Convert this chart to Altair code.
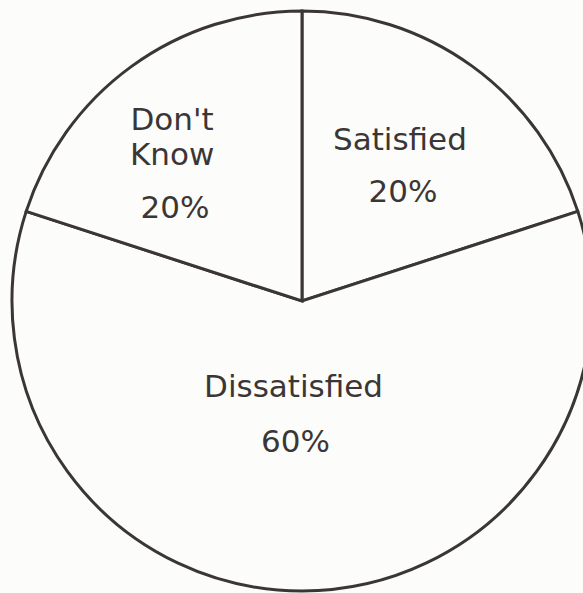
import altair as alt
import pandas as pd

categories = ["Satisfied", "Dissatisfied", "Don't Know"]
shares = [20, 60, 20]
order_idx = [0, 1, 2]

df = pd.DataFrame({"category": categories, "share": shares, "idx": order_idx})

BG = "#fcfcfa"
INK = "#3b3636"
FONT = "DejaVu Sans"
FS = 31
CX, CY = 302, 301

base = alt.Chart(df).encode(
    theta=alt.Theta("share:Q", stack=True, scale=alt.Scale(domain=[0, 100])),
    order=alt.Order("idx:Q", sort="ascending"),
    x=alt.value(CX),
    y=alt.value(CY),
)

pie = base.mark_arc(outerRadius=290, stroke=INK, strokeWidth=3, fill=BG)


def label(expr, radius, dx, dy):
    return base.transform_calculate(t=expr).mark_text(
        radius=radius, dx=dx, dy=dy, font=FONT, fontSize=FS, color=INK,
        align="center", baseline="alphabetic",
    ).encode(text="t:N")


layers = [
    pie,
    label("datum.idx == 0 ? datum.category : ''", 170, -2, -13.5),
    label("datum.idx == 0 ? datum.share + '%' : ''", 170, 1, 38.5),
    label("datum.idx == 2 ? split(datum.category, ' ')[0] : ''", 170, -30, -33.5),
    label("datum.idx == 2 ? split(datum.category, ' ')[1] : ''", 170, -30, 1.5),
    label("datum.idx == 2 ? datum.share + '%' : ''", 170, -27, 54.5),
    label("datum.idx == 1 ? datum.category : ''", 110, -8.5, -14),
    label("datum.idx == 1 ? datum.share + '%' : ''", 110, -6.5, 41),
]

chart = alt.layer(*layers).properties(
    width=583, height=593, padding=0, autosize="none", background=BG
).configure_view(stroke=None)

chart.save("out.html", embed_options={"renderer": "svg", "actions": False})
